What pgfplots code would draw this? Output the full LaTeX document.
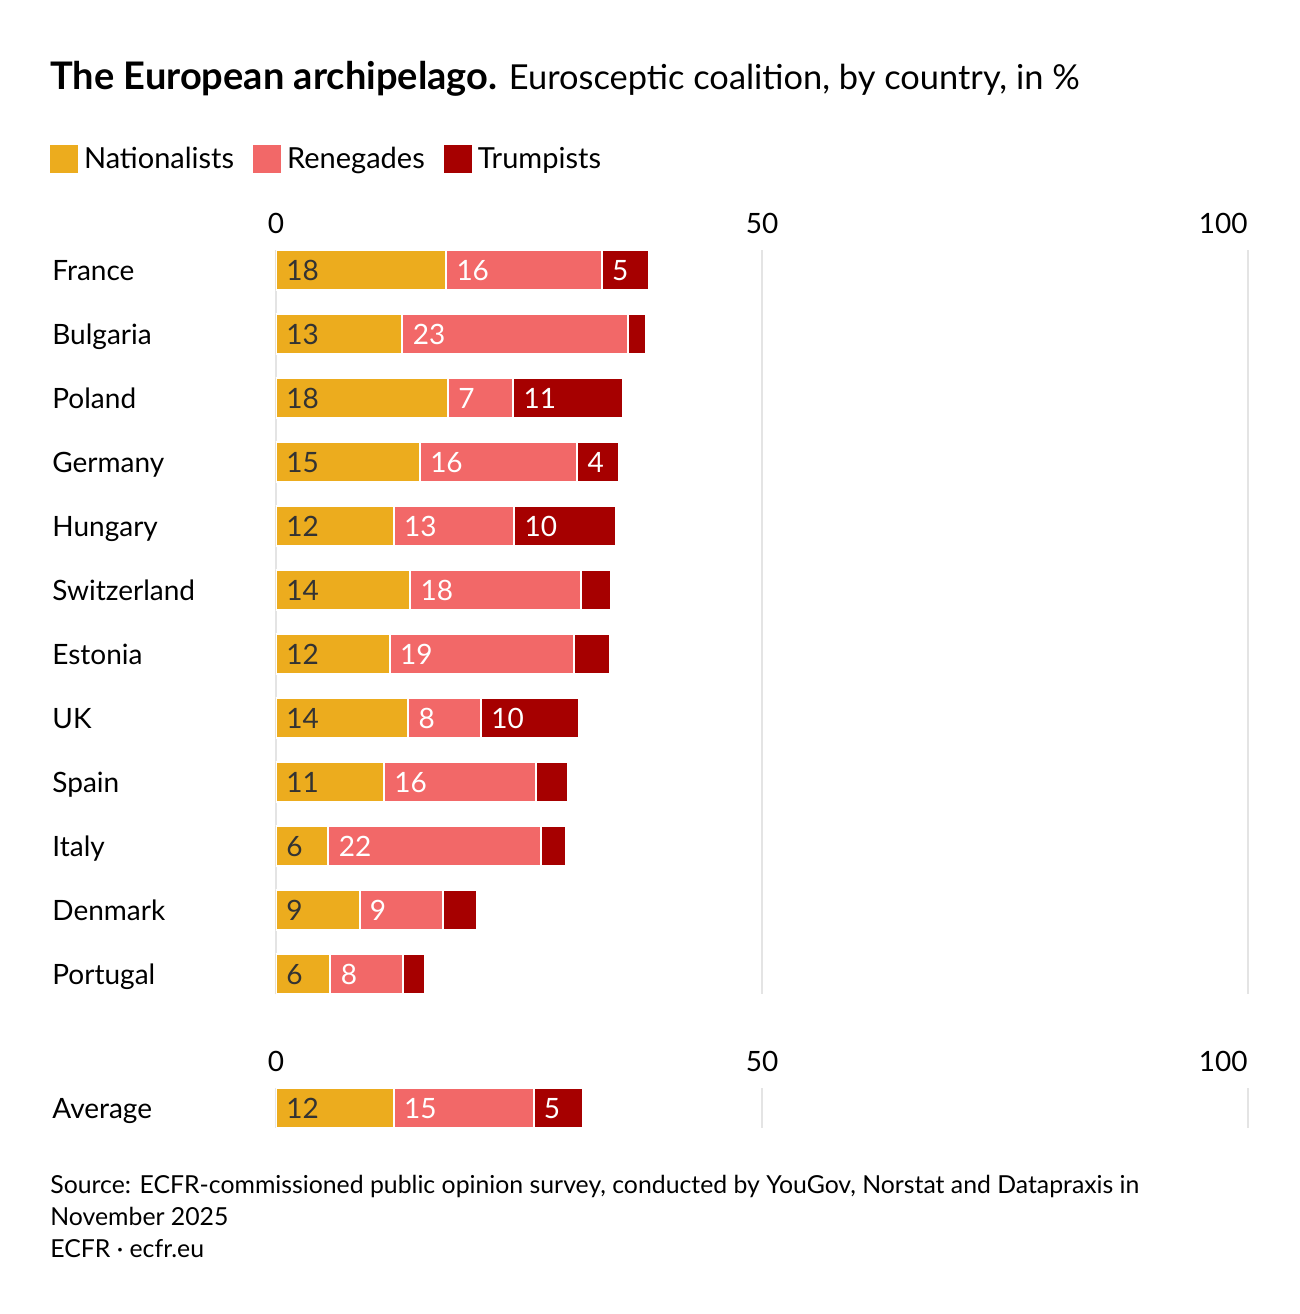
\documentclass[border=0pt]{standalone}
\usepackage{pgfplots}
\usepackage{pgfplotstable}
\pgfplotsset{compat=1.18}
\usepackage{fontspec}
\setmainfont{Lato}
\definecolor{natc}{HTML}{ECAC1E}
\definecolor{renc}{HTML}{F26868}
\definecolor{trc}{HTML}{A60000}
\definecolor{gridc}{HTML}{E4E4E4}
\definecolor{labc}{HTML}{333333}
\newcommand{\lfont}{\fontsize{14}{16}\selectfont}

% index 0 = Portugal ... 11 = France
\pgfplotstableread{
y N R T
0 5.6 7.5 2.2
1 8.6 8.6 3.5
2 5.4 21.9 2.5
3 11.1 15.6 3.3
4 13.6 7.5 10.1
5 11.7 19.0 3.7
6 13.8 17.6 3.1
7 12.1 12.4 10.5
8 14.8 16.2 4.3
9 17.7 6.7 11.3
10 13.0 23.2 1.9
11 17.5 16.0 4.9
}\maindata

\pgfplotstableread{
x y label
0 11 18
0 10 13
0 9 18
0 8 15
0 7 12
0 6 14
0 5 12
0 4 14
0 3 11
0 2 6
0 1 9
0 0 6
}\goldlabels

\pgfplotstableread{
x y label
17.5 11 16
33.5 11 5
13.0 10 23
17.7 9 7
24.4 9 11
14.8 8 16
31.0 8 4
12.1 7 13
24.5 7 10
13.8 6 18
11.7 5 19
13.6 4 8
21.1 4 10
11.1 3 16
5.4 2 22
8.6 1 9
5.6 0 8
}\whitelabels

\pgfplotstableread{
y N R T
0 12.1 14.4 5.1
}\avgdata

\pgfplotstableread{
x y label
0 0 12
}\avggold

\pgfplotstableread{
x y label
12.1 0 15
26.5 0 5
}\avgwhite

\pgfplotsset{
  sqlegend/.style={legend image code/.code={\path[##1,draw=none] (0pt,-7pt) rectangle (14pt,7pt);}},
  barstyle/.style={draw=white, line width=1pt},
  labstyle/.style={draw=none, nodes near coords, point meta=explicit symbolic,
     nodes near coords style={anchor=base west, inner sep=0pt, xshift=5pt, yshift=-5pt, font=\lfont}},
  common/.style={scale only axis, width=486pt, xmin=0, xmax=100,
     /pgf/number format/assume math mode=true},
  deco/.style={axis line style={draw=none}, major tick length=0pt,
     xtick={0,50}, xticklabels={0,50}, xticklabel pos=upper,
     extra x ticks={100}, extra x tick labels={100},
     extra x tick style={grid=major, xticklabel style={anchor=south east}},
     xmajorgrids, grid style={gridc, line width=1pt},
     xticklabel style={inner sep=0pt, yshift=8pt, font=\lfont},
     yticklabel style={anchor=base west, inner sep=0pt, xshift=-112pt, yshift=-5pt, font=\lfont}},
  mainbox/.style={common, at={(138pt,-125pt)}, anchor=north west, height=372pt, ymin=-0.3125, ymax=11.3125},
  avgbox/.style={common, at={(138pt,-544pt)}, anchor=north west, height=20pt, ymin=-0.5, ymax=0.5},
}

\begin{document}
\begin{tikzpicture}
\useasboundingbox (0pt,0pt) rectangle (650pt,-657pt);

\node[anchor=base west, inner sep=0pt] at (25pt,-44.5pt)
  {\fontsize{19}{21}\selectfont\textbf{The European archipelago.}\fontsize{17.2}{21}\selectfont{} Eurosceptic coalition, by country, in \%};

\begin{axis}[mainbox, deco, xbar stacked, bar width=20pt,
  ytick={0,...,11},
  yticklabels={Portugal,Denmark,Italy,Spain,UK,Estonia,Switzerland,Hungary,Germany,Poland,Bulgaria,France},
  legend columns=3, legend cell align=left,
  legend style={at={(-0.2325,1.1411)}, anchor=north west, draw=none, fill=none,
    inner sep=0pt, outer sep=0pt, font=\fontsize{14.5}{16}\selectfont, nodes={inner sep=0pt},
    /tikz/every odd column/.append style={column sep=3pt},
    /tikz/every even column/.append style={column sep=9.5pt}}]
\addplot[barstyle, fill=natc, sqlegend] table[x=N, y=y] {\maindata};
\addplot[barstyle, fill=renc, sqlegend] table[x=R, y=y] {\maindata};
\addplot[barstyle, fill=trc, sqlegend] table[x=T, y=y] {\maindata};
\legend{Nationalists, Renegades, Trumpists}
\end{axis}

\begin{axis}[mainbox, hide axis]
\addplot[labstyle, nodes near coords style={text=labc}] table[x=x, y=y, meta=label] {\goldlabels};
\addplot[labstyle, nodes near coords style={text=white}] table[x=x, y=y, meta=label] {\whitelabels};
\end{axis}

\begin{axis}[avgbox, deco, xbar stacked, bar width=20pt,
  ytick={0}, yticklabels={Average}]
\addplot[barstyle, fill=natc] table[x=N, y=y] {\avgdata};
\addplot[barstyle, fill=renc] table[x=R, y=y] {\avgdata};
\addplot[barstyle, fill=trc] table[x=T, y=y] {\avgdata};
\end{axis}

\begin{axis}[avgbox, hide axis]
\addplot[labstyle, nodes near coords style={text=labc}] table[x=x, y=y, meta=label] {\avggold};
\addplot[labstyle, nodes near coords style={text=white}] table[x=x, y=y, meta=label] {\avgwhite};
\end{axis}

\node[anchor=base west, inner sep=0pt, font=\fontsize{12.4}{16}\selectfont] at (25pt,-596.5pt)
  {Source: ECFR-commissioned public opinion survey, conducted by YouGov, Norstat and Datapraxis in};
\node[anchor=base west, inner sep=0pt, font=\fontsize{12.4}{16}\selectfont] at (25pt,-612.5pt)
  {November 2025};
\node[anchor=base west, inner sep=0pt, font=\fontsize{12.4}{16}\selectfont] at (25pt,-628.5pt)
  {ECFR · ecfr.eu};
\end{tikzpicture}
\end{document}
